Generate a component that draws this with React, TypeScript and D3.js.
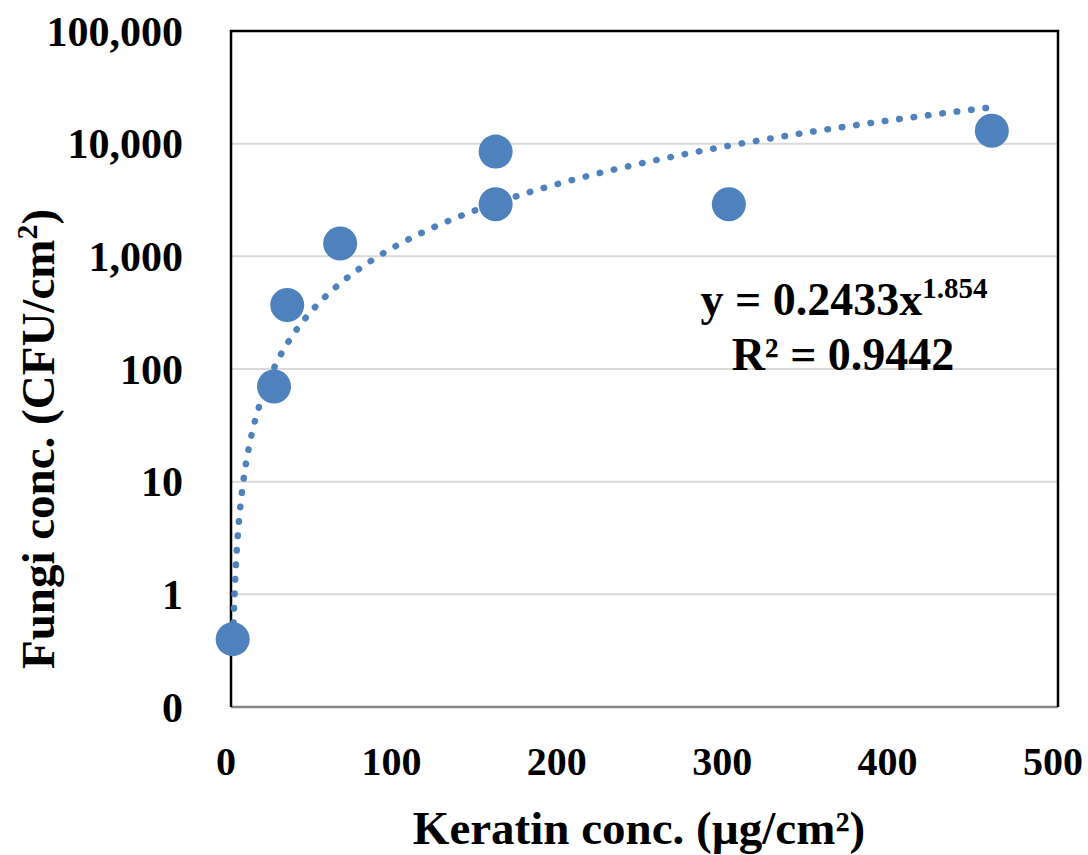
import React, { useEffect, useRef } from 'react';
import * as d3 from 'd3';

// keratin (µg/cm²) vs fungi (CFU/cm²)
const keratin = [1, 26, 34, 66, 160, 160, 301, 460];
const fungi = [0.4, 70, 370, 1300, 8500, 2900, 2900, 13000];

const yTicks = [0.1, 1, 10, 100, 1000, 10000, 100000];
const yTickLabels = ['0', '1', '10', '100', '1,000', '10,000', '100,000'];
const xTicks = [0, 100, 200, 300, 400, 500];

// power trendline from the chart
const trendA = 0.2433;
const trendB = 1.854;
const rSquared = '0.9442';

const FONT = '"Liberation Serif", "Times New Roman", serif';
const BLUE = '#4f81bd';

const App = () => {
  const ref = useRef<SVGSVGElement>(null);

  useEffect(() => {
    const svg = d3.select(ref.current);
    svg.selectAll('*').remove();

    const margin = { top: 31, right: 30, bottom: 148, left: 231 };
    const width = 1088 - margin.left - margin.right;
    const height = 855 - margin.top - margin.bottom;

    const x = d3.scaleLinear().domain([0, 500]).range([0, width]);
    const y = d3.scaleLog().domain([0.1, 100000]).range([height, 0]);

    const g = svg.append('g').attr('transform', `translate(${margin.left},${margin.top})`);

    // gridlines
    g.selectAll('line.grid')
      .data(yTicks.slice(1, -1))
      .enter()
      .append('line')
      .attr('x1', 0)
      .attr('x2', width)
      .attr('y1', d => y(d))
      .attr('y2', d => y(d))
      .attr('stroke', '#d9d9d9')
      .attr('stroke-width', 2);

    // bottom axis line (grey) and black frame
    g.append('line')
      .attr('x1', 0).attr('x2', width)
      .attr('y1', height).attr('y2', height)
      .attr('stroke', '#868686').attr('stroke-width', 2.5);
    g.append('path')
      .attr('d', `M0,${height}V0H${width}V${height}`)
      .attr('fill', 'none')
      .attr('stroke', '#000')
      .attr('stroke-width', 2.5);

    // y tick labels
    g.selectAll('text.ytick')
      .data(yTicks)
      .enter()
      .append('text')
      .attr('x', -48)
      .attr('y', d => y(d))
      .attr('dy', '0.35em')
      .attr('text-anchor', 'end')
      .attr('font-family', FONT)
      .attr('font-weight', 'bold')
      .attr('font-size', 42)
      .text((d, i) => yTickLabels[i]);

    // x tick labels
    g.selectAll('text.xtick')
      .data(xTicks)
      .enter()
      .append('text')
      .attr('x', d => x(d) - 5)
      .attr('y', height + 68)
      .attr('text-anchor', 'middle')
      .attr('font-family', FONT)
      .attr('font-weight', 'bold')
      .attr('font-size', 40)
      .text(d => d);

    // trendline
    const xMin = d3.min(keratin) as number;
    const xMax = d3.max(keratin) as number;
    const trend = d3.range(0, 301).map(i => {
      const xv = xMin + (xMax - xMin) * (i / 300) ** 2;
      return [xv, trendA * Math.pow(xv, trendB)] as [number, number];
    });
    const line = d3.line<[number, number]>()
      .x(d => x(d[0]))
      .y(d => y(d[1]));
    g.append('path')
      .datum(trend)
      .attr('d', line)
      .attr('fill', 'none')
      .attr('stroke', BLUE)
      .attr('stroke-width', 6.5)
      .attr('stroke-linecap', 'round')
      .attr('stroke-dasharray', '0.5 14')
      .attr('stroke-dashoffset', 3);

    // markers
    g.selectAll('circle')
      .data(keratin.map((k, i) => [k, fungi[i]]))
      .enter()
      .append('circle')
      .attr('cx', d => x(d[0]))
      .attr('cy', d => y(d[1]))
      .attr('r', 17)
      .attr('fill', BLUE);

    // equation label
    const eq = g.append('text')
      .attr('x', 613)
      .attr('y', 284)
      .attr('text-anchor', 'middle')
      .attr('font-family', FONT)
      .attr('font-weight', 'bold')
      .attr('font-size', 46);
    eq.append('tspan').text(`y = ${trendA}x`);
    eq.append('tspan').attr('font-size', 29).attr('dy', -17).text(trendB);
    g.append('text')
      .attr('x', 612)
      .attr('y', 339)
      .attr('text-anchor', 'middle')
      .attr('font-family', FONT)
      .attr('font-weight', 'bold')
      .attr('font-size', 46)
      .text(`R² = ${rSquared}`);

    // axis titles
    svg.append('text')
      .attr('transform', 'translate(54,439) rotate(-90)')
      .attr('text-anchor', 'middle')
      .attr('font-family', FONT)
      .attr('font-weight', 'bold')
      .attr('font-size', 47)
      .call(t => {
        t.append('tspan').text('Fungi conc. (CFU/cm');
        t.append('tspan').attr('font-size', 30).attr('dy', -17).text('2');
        t.append('tspan').attr('dy', 17).text(')');
      });
    svg.append('text')
      .attr('x', 639)
      .attr('y', 844)
      .attr('text-anchor', 'middle')
      .attr('font-family', FONT)
      .attr('font-weight', 'bold')
      .attr('font-size', 47)
      .text('Keratin conc. (µg/cm²)');
  }, []);

  return (
    <svg
      ref={ref}
      width={1088}
      height={855}
      style={{ position: 'absolute', left: 0, top: 0, background: '#fff' }}
    />
  );
};

export default App;
